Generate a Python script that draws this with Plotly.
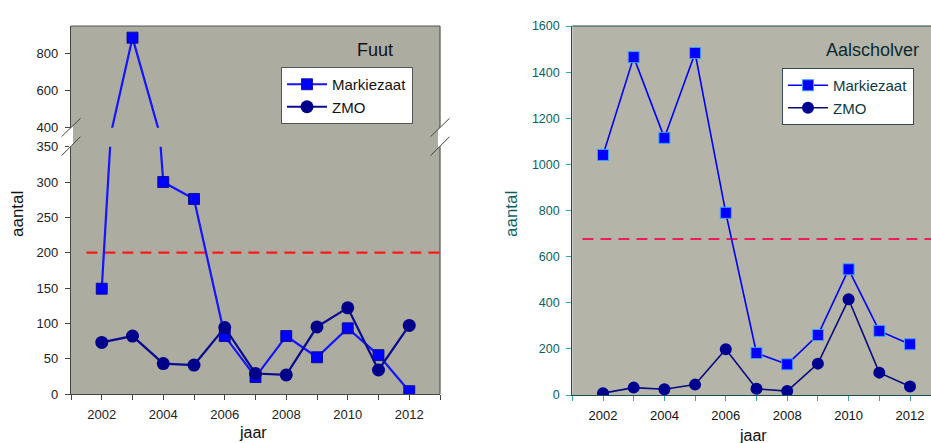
import plotly.graph_objects as go

# ---------------- data ----------------
years = [2002, 2003, 2004, 2005, 2006, 2007, 2008, 2009, 2010, 2011, 2012]
fuut_markiezaat = [149, 887, 300, 276, 82, 24, 82, 52, 93, 55, 4]
fuut_zmo = [73, 82, 43, 41, 94, 29, 27, 95, 122, 34, 97]
fuut_threshold = [200, 200]
fuut_threshold_x = [2001.5, 2013]
aal_markiezaat = [1041, 1465, 1115, 1483, 790, 182, 133, 260, 545, 278, 220]
aal_zmo = [8, 32, 25, 45, 198, 27, 17, 136, 415, 97, 37]
aal_threshold = [676, 676]
aal_threshold_x = [2001.33, 2013]
x_ticks = [2002, 2004, 2006, 2008, 2010, 2012]
fuut_lower_ticks = [0, 50, 100, 150, 200, 250, 300, 350]
fuut_upper_ticks = [400, 600, 800]
aal_ticks = [0, 200, 400, 600, 800, 1000, 1200, 1400, 1600]

W, H = 931, 443
def px(x):
    return x / W
def py(y):
    return 1 - y / H

FONT = "Arial, Liberation Sans, sans-serif"
TEAL = "#0b5f62"
DARK = "#222222"

# left panel geometry (pixels)
L0, L1 = 71, 440
LB, LLT, LUB, LT = 394, 146.7, 127.7, 26
# right panel geometry
R0, R1 = 572.3, 931
RB, RT = 395, 26

fig = go.Figure()

# ---------- Left panel: Fuut ----------
fig.add_trace(go.Scatter(x=fuut_threshold_x, y=fuut_threshold, mode="lines",
                         line=dict(color="#ff1a1a", width=2.2, dash="11px,7px"),
                         xaxis="x", yaxis="y", showlegend=False, hoverinfo="skip"))
fig.add_trace(go.Scatter(x=years, y=fuut_markiezaat, name="Markiezaat", mode="lines+markers",
                         line=dict(color="#1414ff", width=2.2),
                         marker=dict(symbol="square", size=11, color="#0000ff",
                                     line=dict(color="#00008b", width=0.8)),
                         xaxis="x", yaxis="y", legend="legend"))
fig.add_trace(go.Scatter(x=years, y=fuut_markiezaat, name="Markiezaat", mode="lines+markers",
                         line=dict(color="#1414ff", width=2.2),
                         marker=dict(symbol="square", size=11, color="#0000ff",
                                     line=dict(color="#00008b", width=0.8)),
                         xaxis="x", yaxis="y2", showlegend=False))
fig.add_trace(go.Scatter(x=years, y=fuut_zmo, name="ZMO", mode="lines+markers",
                         line=dict(color="#0a0a90", width=2.2),
                         marker=dict(symbol="circle", size=13, color="#00008b"),
                         xaxis="x", yaxis="y", legend="legend"))

# ---------- Right panel: Aalscholver ----------
fig.add_trace(go.Scatter(x=aal_threshold_x, y=aal_threshold, mode="lines",
                         line=dict(color="#e8205e", width=2, dash="11px,7px"),
                         xaxis="x2", yaxis="y3", showlegend=False, hoverinfo="skip"))
fig.add_trace(go.Scatter(x=years, y=aal_markiezaat, name="Markiezaat", mode="lines+markers",
                         line=dict(color="#0000ff", width=1.6),
                         marker=dict(symbol="square", size=11, color="#0000ff",
                                     line=dict(color="#3fa0ff", width=1)),
                         xaxis="x2", yaxis="y3", legend="legend2"))
fig.add_trace(go.Scatter(x=years, y=aal_zmo, name="ZMO", mode="lines+markers",
                         line=dict(color="#0a0a80", width=1.6),
                         marker=dict(symbol="circle", size=12, color="#000090"),
                         xaxis="x2", yaxis="y3", legend="legend2"))

tickfont_l = dict(family=FONT, size=13, color=DARK)
tickfont_r = dict(family=FONT, size=12.5, color=TEAL)

common = dict(showgrid=False, zeroline=False, automargin=False)

fig.update_layout(
    width=W, height=H,
    margin=dict(l=0, r=0, t=0, b=0, pad=0, autoexpand=False),
    paper_bgcolor="white",
    plot_bgcolor="rgba(0,0,0,0)",
    font=dict(family=FONT),
    xaxis=dict(domain=[px(L0), px(L1)], range=[2001, 2013], anchor="y",
               tickvals=x_ticks, ticks="outside", ticklen=5, tickcolor="#444",
               minor=dict(dtick=1, tick0=2001, ticks="outside", ticklen=5, tickcolor="#444"),
               showline=True, linecolor="#444", linewidth=1.2,
               tickfont=tickfont_l, ticklabelstandoff=3, **common),
    yaxis=dict(domain=[py(LB), py(LLT)], range=[0, 350], anchor="x",
               tickvals=fuut_lower_ticks, ticks="outside", ticklen=5, tickcolor="#444",
               showline=True, linecolor="#444", linewidth=1.2,
               tickfont=tickfont_l, ticklabelstandoff=4, **common),
    yaxis2=dict(domain=[py(LUB), py(LT)], range=[400, 950], anchor="x",
                tickvals=fuut_upper_ticks, ticks="outside", ticklen=5, tickcolor="#444",
                showline=True, linecolor="#444", linewidth=1.2,
                tickfont=tickfont_l, ticklabelstandoff=4, **common),
    xaxis2=dict(domain=[px(R0), px(R1)], range=[2001, 2001 + (R1 - R0) / 30.7], anchor="y3",
                tickvals=x_ticks, ticks="outside", ticklen=5, tickcolor="#3aa6a6",
                minor=dict(dtick=1, tick0=2001, ticks="outside", ticklen=5, tickcolor="#3aa6a6"),
                showline=True, linecolor="#1d4a55", linewidth=1.2,
                tickfont=dict(family=FONT, size=13, color="#111111"), ticklabelstandoff=3, **common),
    yaxis3=dict(domain=[py(RB), py(RT)], range=[0, 1600], anchor="x2",
                tickvals=aal_ticks, ticks="outside", ticklen=5, tickcolor="#3aa6a6",
                showline=True, linecolor="#1d4a55", linewidth=1.2,
                tickfont=tickfont_r, ticklabelstandoff=4, **common),
    legend=dict(x=px(281), y=py(67), xanchor="left", yanchor="top",
                bgcolor="white", bordercolor="#555555", borderwidth=1,
                font=dict(family=FONT, size=15, color="#111111"),
                tracegroupgap=0, itemwidth=40, entrywidth=95),
    legend2=dict(x=px(782), y=py(68), xanchor="left", yanchor="top",
                 bgcolor="white", bordercolor="#3a4a55", borderwidth=1,
                 font=dict(family=FONT, size=15, color="#0b3a44"),
                 tracegroupgap=0, itemwidth=40, entrywidth=95),
)

shapes = []
# backgrounds
shapes.append(dict(type="rect", xref="paper", yref="paper", x0=px(L0), x1=px(L1), y0=py(LB), y1=py(LT),
                   fillcolor="#adaca1", line=dict(width=0), layer="below"))
shapes.append(dict(type="rect", xref="paper", yref="paper", x0=px(R0), x1=px(R1), y0=py(RB), y1=py(RT),
                   fillcolor="#b5b4a9", line=dict(width=0), layer="below"))
# left panel top & right borders
shapes.append(dict(type="line", xref="paper", yref="paper", x0=px(L0), x1=px(L1), y0=py(LT), y1=py(LT),
                   line=dict(color="#555555", width=1.2)))
shapes.append(dict(type="line", xref="paper", yref="paper", x0=px(L1), x1=px(L1), y0=py(LT), y1=py(LB),
                   line=dict(color="#555555", width=1.2)))
# right panel top border
shapes.append(dict(type="line", xref="paper", yref="paper", x0=px(R0), x1=px(R1), y0=py(RT), y1=py(RT),
                   line=dict(color="#1d4a55", width=1.2)))
# break gaps and marks
for xc in (L0, L1):
    xa, xb = xc - 9.5, xc + 9.5
    shapes.append(dict(type="path", xref="paper", yref="paper",
                       path="M {},{} L {},{} L {},{} L {},{} Z".format(
                           px(xc - 2), py(127.5 + 2), px(xc + 2), py(127.5 - 2),
                           px(xc + 2), py(146.5 - 2), px(xc - 2), py(146.5 + 2)),
                       fillcolor="white", line=dict(width=0)))
    shapes.append(dict(type="line", xref="paper", yref="paper", x0=px(xa), y0=py(136.7), x1=px(xb), y1=py(118.3),
                       line=dict(color="#444444", width=1)))
    shapes.append(dict(type="line", xref="paper", yref="paper", x0=px(xa), y0=py(155.7), x1=px(xb), y1=py(136.7),
                       line=dict(color="#444444", width=1)))
fig.update_layout(shapes=shapes)

annotations = [
    dict(text="Fuut", x=px(375), y=py(50), xref="paper", yref="paper", showarrow=False,
         xanchor="center", yanchor="middle", font=dict(family=FONT, size=18, color="#111111")),
    dict(text="Aalscholver", x=px(921), y=py(50), xref="paper", yref="paper", showarrow=False,
         xanchor="right", yanchor="middle", font=dict(family=FONT, size=18, color="#0b2a30")),
    dict(text="aantal", x=px(18), y=py(214), xref="paper", yref="paper", showarrow=False,
         textangle=-90, xanchor="center", yanchor="middle", font=dict(family=FONT, size=17, color="#111111")),
    dict(text="aantal", x=px(512), y=py(214), xref="paper", yref="paper", showarrow=False,
         textangle=-90, xanchor="center", yanchor="middle", font=dict(family=FONT, size=17, color=TEAL)),
    dict(text="jaar", x=px(253), y=py(432), xref="paper", yref="paper", showarrow=False,
         xanchor="center", yanchor="middle", font=dict(family=FONT, size=16, color="#111111")),
    dict(text="jaar", x=px(753), y=py(435), xref="paper", yref="paper", showarrow=False,
         xanchor="center", yanchor="middle", font=dict(family=FONT, size=16, color="#111111")),
]
fig.update_layout(annotations=annotations)

fig.write_html("out.html", config={"displayModeBar": False},
               post_script="document.body.style.margin='0';document.body.style.overflow='hidden';")
